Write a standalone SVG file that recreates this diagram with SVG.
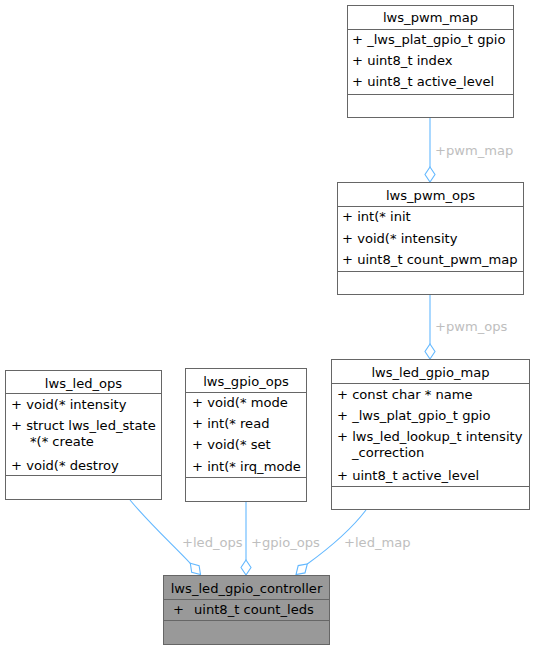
<svg xmlns="http://www.w3.org/2000/svg" width="535" height="650" viewBox="0 0 535 650">
<style>
.box{fill:#ffffff;stroke:#666666;stroke-width:1}
.hl{fill:#999999;stroke:#666666;stroke-width:1}
.sep{stroke:#666666;stroke-width:1;fill:none}
text{font-family:"DejaVu Sans","Liberation Sans",sans-serif;font-size:13.1px;fill:#000000}
.t{text-anchor:middle}
.lbl{fill:#bebebe}
.edge{fill:none;stroke:#63b8ff;stroke-width:1.1}
.dia{fill:#ffffff;stroke:#63b8ff;stroke-width:1.1}
</style>
<rect width="535" height="650" fill="#ffffff"/>
<g id="edges">
<path class="edge" d="M430,117.5 V167"/>
<polygon class="dia" points="430,167 435,174.5 430,182 425,174.5"/>
<text class="lbl" x="435" y="154.5">+pwm_map</text>
<path class="edge" d="M430,294.5 V344"/>
<polygon class="dia" points="430,344 435,351.5 430,359 425,351.5"/>
<text class="lbl" x="435" y="331">+pwm_ops</text>
<path class="edge" d="M130,500 C150,524 172,544 190.3,563.3"/>
<polygon class="dia" points="190.3,563.3 199.1,565.6 200.5,574.5 191.7,572.3"/>
<text class="lbl" x="182" y="546.5">+led_ops</text>
<path class="edge" d="M246,501.5 V560"/>
<polygon class="dia" points="246,560 251,567.5 246,575 241,567.5"/>
<text class="lbl" x="251" y="546.5">+gpio_ops</text>
<path class="edge" d="M366,510 C350,531 328,549 307.3,564"/>
<polygon class="dia" points="307.3,564 305,572.9 296,574.5 298.2,565.6"/>
<text class="lbl" x="344" y="546.5">+led_map</text>
</g>
<g id="lws_pwm_map">
<rect class="box" x="347.5" y="5.5" width="166" height="112"/>
<path class="sep" d="M347.5,29.5 H513.5 M347.5,94.5 H513.5"/>
<text class="t" x="430.5" y="22">lws_pwm_map</text>
<text x="352" y="44">+ _lws_plat_gpio_t gpio</text>
<text x="352" y="65">+ uint8_t index</text>
<text x="352" y="86">+ uint8_t active_level</text>
</g>
<g id="lws_pwm_ops">
<rect class="box" x="337.5" y="182.5" width="186" height="112"/>
<path class="sep" d="M337.5,206.5 H523.5 M337.5,271.5 H523.5"/>
<text class="t" x="430.5" y="200">lws_pwm_ops</text>
<text x="342" y="221">+ int(* init</text>
<text x="342" y="243">+ void(* intensity</text>
<text x="342" y="264">+ uint8_t count_pwm_map</text>
</g>
<g id="lws_led_gpio_map">
<rect class="box" x="331.5" y="359.5" width="198" height="150"/>
<path class="sep" d="M331.5,383.5 H529.5 M331.5,486.5 H529.5"/>
<text class="t" x="430.5" y="377">lws_led_gpio_map</text>
<text x="337" y="398.5">+ const char * name</text>
<text x="337" y="419.5">+ _lws_plat_gpio_t gpio</text>
<text x="337" y="441">+ lws_led_lookup_t intensity</text>
<text x="352" y="457">_correction</text>
<text x="337" y="479.5">+ uint8_t active_level</text>
</g>
<g id="lws_led_ops">
<rect class="box" x="5.5" y="370.5" width="156" height="129"/>
<path class="sep" d="M5.5,393.5 H161.5 M5.5,475.5 H161.5"/>
<text class="t" x="83.5" y="388">lws_led_ops</text>
<text x="11" y="408.5">+ void(* intensity</text>
<text x="11" y="430">+ struct lws_led_state</text>
<text x="30" y="446">*(* create</text>
<text x="11" y="469.5">+ void(* destroy</text>
</g>
<g id="lws_gpio_ops">
<rect class="box" x="185.5" y="368.5" width="121" height="133"/>
<path class="sep" d="M185.5,392.5 H306.5 M185.5,477.5 H306.5"/>
<text class="t" x="246" y="386">lws_gpio_ops</text>
<text x="192" y="407">+ void(* mode</text>
<text x="192" y="428">+ int(* read</text>
<text x="192" y="449">+ void(* set</text>
<text x="192" y="470.5">+ int(* irq_mode</text>
</g>
<g id="lws_led_gpio_controller">
<rect class="hl" x="163.5" y="575.5" width="166" height="69"/>
<path class="sep" d="M163.5,599.5 H329.5 M163.5,620.5 H329.5"/>
<text class="t" x="246.5" y="593">lws_led_gpio_controller</text>
<text x="173" y="614">+</text>
<text x="194" y="614">uint8_t count_leds</text>
</g>
</svg>
